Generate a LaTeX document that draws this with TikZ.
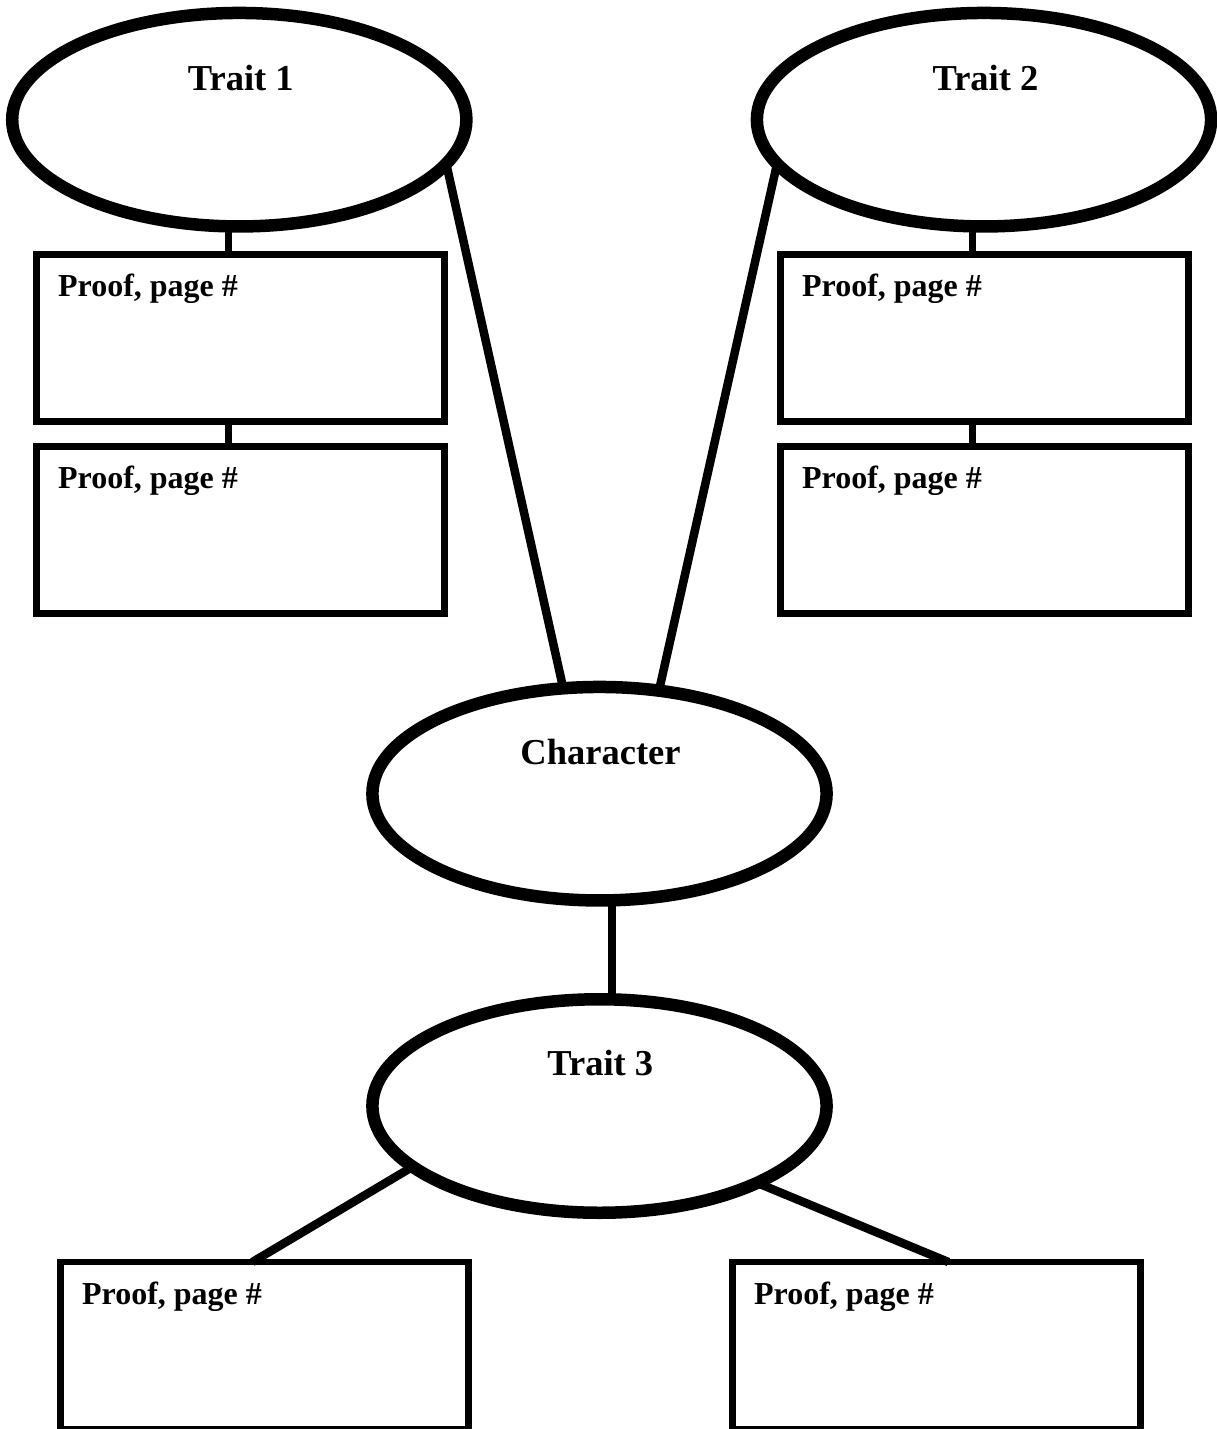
\documentclass[tikz,border=0pt]{standalone}
\usepackage{fontspec}
\setmainfont{Liberation Serif}
\usetikzlibrary{shapes.geometric}
\begin{document}
\begin{tikzpicture}[x=1pt,y=-1pt,
  oval/.style={ellipse,draw,line width=12.5pt,minimum width=454.2pt,minimum height=213.5pt,inner sep=0pt,outer sep=0pt},
  proofbox/.style={rectangle,draw,line width=6.5pt,minimum width=408pt,minimum height=167pt,inner sep=0pt,outer sep=0pt},
  stem/.style={line width=7.7pt},
  spoke/.style={line width=8.5pt},
  title/.style={font=\fontsize{36.5}{40}\selectfont\bfseries,anchor=base,inner sep=0pt},
  prooflabel/.style={font=\fontsize{32}{36}\selectfont\bfseries,anchor=base west,inner sep=0pt}]
\useasboundingbox (0,0) rectangle (1217,1429);
\fill[white] (0,0) rectangle (1217,1429);

% ellipses
\node[oval] (t1) at (239.3,119.7) {};
\node[oval] (t2) at (984,119.7) {};
\node[oval] (ch) at (599.5,793.7) {};
\node[oval] (t3) at (599.5,1106) {};

% titles
\node[title] (t1l) at (240.8,90) {Trait 1};
\node[title] (t2l) at (985.5,90) {Trait 2};
\node[title] (chl) at (600.5,764.3) {Character};
\node[title] (t3l) at (600.3,1075) {Trait 3};

% boxes
\node[proofbox] (b1) at (240.4,338) {};
\node[proofbox] (b2) at (240.4,530) {};
\node[proofbox] (b3) at (984.4,338) {};
\node[proofbox] (b4) at (984.4,530) {};
\node[proofbox] (b5) at (264.4,1345.5) {};
\node[proofbox] (b6) at (936.4,1345.5) {};

% box labels
\node[prooflabel] (p1) at ([xshift=21.5pt,yshift=-42pt]b1.north west) {Proof, page \#};
\node[prooflabel] (p2) at ([xshift=21.5pt,yshift=-42pt]b2.north west) {Proof, page \#};
\node[prooflabel] (p3) at ([xshift=21.5pt,yshift=-42pt]b3.north west) {Proof, page \#};
\node[prooflabel] (p4) at ([xshift=21.5pt,yshift=-42pt]b4.north west) {Proof, page \#};
\node[prooflabel] (p5) at ([xshift=21.5pt,yshift=-42pt]b5.north west) {Proof, page \#};
\node[prooflabel] (p6) at ([xshift=21.5pt,yshift=-42pt]b6.north west) {Proof, page \#};

% vertical stems
\draw[stem] ([xshift=-12pt]b1.north) -- ([xshift=-12pt]b1.north |- t1.south);
\draw[stem] ([xshift=-12pt]b2.north) -- ([xshift=-12pt]b1.south);
\draw[stem] ([xshift=-12pt]b3.north) -- ([xshift=-12pt]b3.north |- t2.south);
\draw[stem] ([xshift=-12pt]b4.north) -- ([xshift=-12pt]b3.south);
\draw[stem] ([xshift=12.5pt]ch.south) -- ([xshift=12.5pt]ch.south |- t3.north);

% spokes
\draw[spoke] (t1.-12.8) -- (ch.109);
\draw[spoke] (t2.192.4) -- (ch.60);
\draw[spoke] (t3.198.2) -- ([xshift=-12pt]b5.north);
\draw[spoke] (t3.-26.4) -- ([xshift=12pt]b6.north);
\end{tikzpicture}
\end{document}
